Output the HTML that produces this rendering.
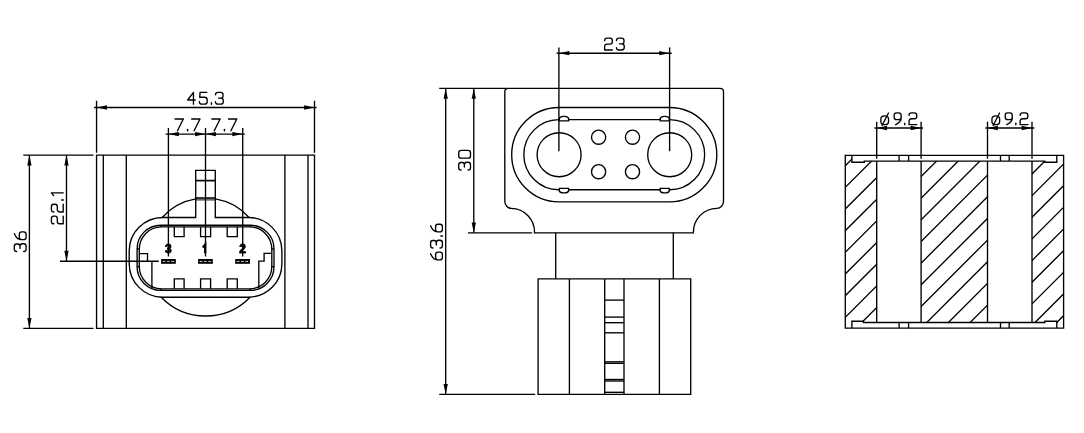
<!DOCTYPE html>
<html><head><meta charset="utf-8"><title>Connector drawing</title>
<style>
html,body{margin:0;padding:0;background:#fff;}
body{width:1084px;height:433px;overflow:hidden;font-family:"Liberation Sans",sans-serif;}
svg{display:block;}
svg path, svg circle{fill:none;stroke:#000;stroke-width:1.35;}
svg .a{fill:#000;stroke:none;}
svg .t path{stroke-linecap:round;stroke-linejoin:round;}
svg .b{font-family:"Liberation Sans",sans-serif;font-weight:bold;font-size:12px;text-anchor:middle;fill:#000;stroke:#000;stroke-width:0.8px;filter:grayscale(1);}
svg path.wd{stroke:#fff;stroke-width:0.8;stroke-dasharray:2.7 1.6;}
</style></head><body>
<svg width="1084" height="433" viewBox="0 0 1084 433">
<rect x="0" y="0" width="1084" height="433" fill="#fff"/>
<defs><clipPath id="hc"><path d="M845.3,155.35 H851.9 V162.2 H864.3 V161.05 H876.7 V322.5 H863.4 V321.2 H851.9 V328.1 H845.3 Z"/><path d="M921.1,161.05 H987.5 V322.5 H921.1 Z"/><path d="M1032,161.05 H1044.8 V162.2 H1056.8 V155.35 H1063.6 V328.1 H1056.8 V321.2 H1044.8 V322.5 H1032 Z"/></clipPath></defs>
<path d="M96.55,155.1 H314.5 V328.3 H96.55 Z"/>
<path d="M103.3,155.1 L103.3,328.3" />
<path d="M126.3,155.1 L126.3,328.3" />
<path d="M284.9,155.1 L284.9,328.3" />
<path d="M308.0,155.1 L308.0,328.3" />
<path d="M96.55,100.7 L96.55,152.8" />
<path d="M314.5,100.7 L314.5,152.8" />
<path d="M94.1,107.5 L316.6,107.5" />
<polygon class="a" points="96.55,107.50 106.95,105.35 106.95,109.65"/>
<polygon class="a" points="314.50,107.50 304.10,105.35 304.10,109.65"/>
<g transform="translate(187.1,104.2)" class="t"><path transform="translate(0.55,-11.8)" d="M5.8,0 L0,7.6 H7.6 M5.8,0 V11.8" stroke-width="1.35"/><path transform="translate(12.25,-11.8)" d="M7.4,0 H0.7 L0.4,4.9 H5.2 Q7.8,4.9 7.8,7.4 V9.3 Q7.8,11.8 5.2,11.8 H2.5 Q0,11.8 0,9.4" stroke-width="1.35"/><path transform="translate(24.15,-11.8)" d="M0.2,10.3 V11.9" stroke-width="1.75"/><path transform="translate(28.40,-11.8)" d="M0,2.4 Q0,0 2.4,0 H5.2 Q7.5,0 7.5,2.2 V3.5 Q7.5,5.7 5.2,5.7 H3 M5.2,5.7 Q7.8,5.7 7.8,8.1 V9.4 Q7.8,11.8 5.3,11.8 H2.5 Q0,11.8 0,9.4" stroke-width="1.35"/></g>
<path d="M168.4,127.9 L168.4,256.5" />
<path d="M205.5,127.9 L205.5,256.5" />
<path d="M242.7,127.9 L242.7,256.5" />
<path d="M165.6,134.1 L244.8,134.1" />
<polygon class="a" points="168.40,134.10 178.80,131.95 178.80,136.25"/>
<polygon class="a" points="205.50,134.10 195.10,131.95 195.10,136.25"/>
<polygon class="a" points="205.50,134.10 215.90,131.95 215.90,136.25"/>
<polygon class="a" points="242.70,134.10 232.30,131.95 232.30,136.25"/>
<g transform="translate(174.5,130.8)" class="t"><path transform="translate(0.55,-11.8)" d="M0,0 H8.3 L2.4,11.8" stroke-width="1.35"/><path transform="translate(12.95,-11.8)" d="M0.2,10.3 V11.9" stroke-width="1.75"/><path transform="translate(17.20,-11.8)" d="M0,0 H8.3 L2.4,11.8" stroke-width="1.35"/></g>
<g transform="translate(211.3,130.8)" class="t"><path transform="translate(0.55,-11.8)" d="M0,0 H8.3 L2.4,11.8" stroke-width="1.35"/><path transform="translate(12.95,-11.8)" d="M0.2,10.3 V11.9" stroke-width="1.75"/><path transform="translate(17.20,-11.8)" d="M0,0 H8.3 L2.4,11.8" stroke-width="1.35"/></g>
<path d="M23.3,155.1 L93.5,155.1" />
<path d="M23.3,328.3 L93.5,328.3" />
<path d="M60.0,261.2 L158.8,261.2" />
<path d="M29.4,155.1 L29.4,328.3" />
<polygon class="a" points="29.40,155.10 27.25,165.50 31.55,165.50"/>
<polygon class="a" points="29.40,328.30 27.25,317.90 31.55,317.90"/>
<path d="M66.5,155.1 L66.5,261.2" />
<polygon class="a" points="66.50,155.10 64.35,165.50 68.65,165.50"/>
<polygon class="a" points="66.50,261.20 64.35,250.80 68.65,250.80"/>
<g transform="translate(26.1,252.075) rotate(-90)" class="t"><path transform="translate(0.55,-11.8)" d="M0,2.4 Q0,0 2.4,0 H5.2 Q7.5,0 7.5,2.2 V3.5 Q7.5,5.7 5.2,5.7 H3 M5.2,5.7 Q7.8,5.7 7.8,8.1 V9.4 Q7.8,11.8 5.3,11.8 H2.5 Q0,11.8 0,9.4" stroke-width="1.35"/><path transform="translate(12.45,-11.8)" d="M0,9.4 Q0,11.8 2.4,11.8 H5.3 Q7.7,11.8 7.7,9.4 V7.4 Q7.7,5.0 5.3,5.0 H2.4 Q0,5.0 0,7.4 Z M0,7.6 V6.5 Q0,2.6 6.1,0" stroke-width="1.35"/></g>
<g transform="translate(63.2,224.32500000000002) rotate(-90)" class="t"><path transform="translate(0.55,-11.8)" d="M0,2.5 Q0,0 2.4,0 H5.3 Q7.7,0 7.7,2.3 V3.7 Q7.7,5.9 5.3,5.9 H2.4 Q0,5.9 0,8.2 V11.8 H7.7" stroke-width="1.35"/><path transform="translate(12.35,-11.8)" d="M0,2.5 Q0,0 2.4,0 H5.3 Q7.7,0 7.7,2.3 V3.7 Q7.7,5.9 5.3,5.9 H2.4 Q0,5.9 0,8.2 V11.8 H7.7" stroke-width="1.35"/><path transform="translate(24.15,-11.8)" d="M0.2,10.3 V11.9" stroke-width="1.75"/><path transform="translate(28.40,-11.8)" d="M0.3,2.3 L3.0,0 V11.8" stroke-width="1.35"/></g>
<path d="M162.2,217.5 H195.7 V170.4 H215.3 V217.5 H249.1"/>
<path d="M195.7,180.6 L215.3,180.6" style="stroke-width:1.7"/>
<path d="M195.7,198.0 L215.3,198.0" style="stroke-width:1.6"/>
<path d="M195.7,199.9 L215.3,199.9" style="stroke-width:1.0"/>
<path d="M162.2,217.5 A57.9,57.9 0 0 1 195.7,198.9 M215.3,198.9 A57.9,57.9 0 0 1 249.1,217.5"/>
<path d="M161.2,297.2 A61.9,61.9 0 0 0 250.1,297.2"/>
<path d="M162.7,217.5 A33.5,33.5 0 0 0 129.2,251.0 V263.7 A33.5,33.5 0 0 0 162.7,297.2 H248.6 A33.5,33.5 0 0 0 281.9,263.7 V251.0 A33.5,33.5 0 0 0 248.6,217.5"/>
<path d="M160.79999999999998,225.2 H250.3 A23.7,23.7 0 0 1 274.0,248.89999999999998 V266.7 A23.7,23.7 0 0 1 250.3,290.4 H160.79999999999998 A23.7,23.7 0 0 1 137.1,266.7 V248.89999999999998 A23.7,23.7 0 0 1 160.79999999999998,225.2 Z"/>
<path d="M161.5,226.9 H249.60000000000002 A22.2,22.2 0 0 1 271.8,249.1 V266.6 A22.2,22.2 0 0 1 249.60000000000002,288.8 H161.5 A22.2,22.2 0 0 1 139.3,266.6 V249.1 A22.2,22.2 0 0 1 161.5,226.9 Z"/>
<path d="M160.8,225.2 L160.8,226.9" />
<path d="M160.8,288.8 L160.8,290.4" />
<path d="M250.3,225.2 L250.3,226.9" />
<path d="M250.3,288.8 L250.3,290.4" />
<path d="M137.1,248.9 L139.3,248.9" />
<path d="M271.8,248.9 L274.0,248.9" />
<path d="M137.1,266.7 L139.3,266.7" />
<path d="M271.8,266.7 L274.0,266.7" />
<path d="M174.3,226.9 V236.6 H184.1 V226.9"/>
<path d="M174.3,288.8 V278.8 H184.1 V288.8"/>
<path d="M200.6,226.9 V236.6 H210.6 V226.9"/>
<path d="M200.6,288.8 V278.8 H210.6 V288.8"/>
<path d="M227.2,226.9 V236.6 H237.3 V226.9"/>
<path d="M227.2,288.8 V278.8 H237.3 V288.8"/>
<rect class="a" x="161.1" y="259.0" width="14.7" height="4.8"/>
<path d="M162.7,261.4 H174.4" class="wd"/>
<rect class="a" x="198.1" y="259.0" width="14.7" height="4.8"/>
<path d="M199.7,261.4 H211.4" class="wd"/>
<rect class="a" x="235.2" y="259.0" width="14.8" height="4.8"/>
<path d="M236.79999999999998,261.4 H248.6" class="wd"/>
<path d="M139.3,253.6 H147.5 V261.2"/>
<path d="M151.9,261.2 L151.9,288.8" />
<path d="M271.8,253.4 H264.1 V261.1 H258.8 V288.8"/>
<text x="168.3" y="252.7" class="b">3</text>
<text x="242.7" y="252.7" class="b">2</text>
<path d="M202.8,247.4 L205.2,244.6 V253.2" style="stroke-width:2.3"/>
<path d="M508.3,88.4 H720 Q723.5,88.4 723.5,91.9 V201.2 A6.6,7.2 0 0 1 716.9,208.4 A23.6,23.6 0 0 0 693.4,232.8 H534.5 A23.6,23.6 0 0 0 511.3,208.4 A6.5,7.2 0 0 1 504.8,201.2 V91.9 Q504.8,88.4 508.3,88.4 Z"/>
<path d="M558.9,47.4 L558.9,151.2" />
<path d="M669.6,47.4 L669.6,151.2" />
<path d="M556.6,53.2 L671.7,53.2" />
<polygon class="a" points="558.90,53.20 569.30,51.05 569.30,55.35"/>
<polygon class="a" points="669.60,53.20 659.20,51.05 659.20,55.35"/>
<g transform="translate(604.1,49.95)" class="t"><path transform="translate(0.55,-11.8)" d="M0,2.5 Q0,0 2.4,0 H5.3 Q7.7,0 7.7,2.3 V3.7 Q7.7,5.9 5.3,5.9 H2.4 Q0,5.9 0,8.2 V11.8 H7.7" stroke-width="1.35"/><path transform="translate(12.35,-11.8)" d="M0,2.4 Q0,0 2.4,0 H5.2 Q7.5,0 7.5,2.2 V3.5 Q7.5,5.7 5.2,5.7 H3 M5.2,5.7 Q7.8,5.7 7.8,8.1 V9.4 Q7.8,11.8 5.3,11.8 H2.5 Q0,11.8 0,9.4" stroke-width="1.35"/></g>
<path d="M439.2,88.4 L507,88.4" />
<path d="M467.9,232.8 L532.1,232.8" />
<path d="M439.2,394.3 L535.2,394.3" />
<path d="M445.7,88.4 L445.7,394.3" />
<polygon class="a" points="445.70,88.40 443.55,98.80 447.85,98.80"/>
<polygon class="a" points="445.70,394.30 443.55,383.90 447.85,383.90"/>
<path d="M473.8,88.4 L473.8,232.8" />
<polygon class="a" points="473.80,88.40 471.65,98.80 475.95,98.80"/>
<polygon class="a" points="473.80,232.80 471.65,222.40 475.95,222.40"/>
<g transform="translate(442.4,260.4) rotate(-90)" class="t"><path transform="translate(0.55,-11.8)" d="M0,9.4 Q0,11.8 2.4,11.8 H5.3 Q7.7,11.8 7.7,9.4 V7.4 Q7.7,5.0 5.3,5.0 H2.4 Q0,5.0 0,7.4 Z M0,7.6 V6.5 Q0,2.6 6.1,0" stroke-width="1.35"/><path transform="translate(12.35,-11.8)" d="M0,2.4 Q0,0 2.4,0 H5.2 Q7.5,0 7.5,2.2 V3.5 Q7.5,5.7 5.2,5.7 H3 M5.2,5.7 Q7.8,5.7 7.8,8.1 V9.4 Q7.8,11.8 5.3,11.8 H2.5 Q0,11.8 0,9.4" stroke-width="1.35"/><path transform="translate(24.25,-11.8)" d="M0.2,10.3 V11.9" stroke-width="1.75"/><path transform="translate(28.50,-11.8)" d="M0,9.4 Q0,11.8 2.4,11.8 H5.3 Q7.7,11.8 7.7,9.4 V7.4 Q7.7,5.0 5.3,5.0 H2.4 Q0,5.0 0,7.4 Z M0,7.6 V6.5 Q0,2.6 6.1,0" stroke-width="1.35"/></g>
<g transform="translate(470.5,170.575) rotate(-90)" class="t"><path transform="translate(0.55,-11.8)" d="M0,2.4 Q0,0 2.4,0 H5.2 Q7.5,0 7.5,2.2 V3.5 Q7.5,5.7 5.2,5.7 H3 M5.2,5.7 Q7.8,5.7 7.8,8.1 V9.4 Q7.8,11.8 5.3,11.8 H2.5 Q0,11.8 0,9.4" stroke-width="1.35"/><path transform="translate(12.45,-11.8)" d="M2.5,0 H5.2 Q7.7,0 7.7,2.5 V9.3 Q7.7,11.8 5.2,11.8 H2.5 Q0,11.8 0,9.3 V2.5 Q0,0 2.5,0 Z" stroke-width="1.35"/></g>
<path d="M558.9,107.45 H669.6 A47.2,47.2 0 0 1 669.6,201.85000000000002 H558.9 A47.2,47.2 0 0 1 558.9,107.45 Z"/>
<path d="M568.6,119.60000000000001 H660.2 M669.6,119.60000000000001 A35.05,35.05 0 0 1 669.6,189.7 M660.2,189.7 H568.6 M558.9,189.7 A35.05,35.05 0 0 1 558.9,119.60000000000001"/>
<path d="M559.3,120.8 V118.5 Q559.9,116.3 563.3,116.3 H564.6 Q568.0,116.3 568.6,118.5 V120.8 Z"/>
<path d="M660.2,120.8 V118.5 Q660.8000000000001,116.3 664.2,116.3 H665.3 Q668.6999999999999,116.3 669.3,118.5 V120.8 Z"/>
<path d="M559.3,188.4 V190.70000000000002 Q559.9,192.9 563.3,192.9 H564.6 Q568.0,192.9 568.6,190.70000000000002 V188.4 Z"/>
<path d="M660.2,188.4 V190.70000000000002 Q660.8000000000001,192.9 664.2,192.9 H665.3 Q668.6999999999999,192.9 669.3,190.70000000000002 V188.4 Z"/>
<circle cx="559.1" cy="154.7" r="22.0"/>
<circle cx="669.7" cy="154.7" r="22.0"/>
<circle cx="598.6" cy="137.2" r="7.1"/>
<circle cx="598.6" cy="171.7" r="7.1"/>
<circle cx="632.5" cy="137.2" r="7.1"/>
<circle cx="632.5" cy="171.7" r="7.1"/>
<path d="M555.7,232.8 L555.7,278.9" />
<path d="M673.3,232.8 L673.3,278.9" />
<path d="M538.1,278.9 H690.7 V394.3 H538.1 Z"/>
<path d="M569.4,278.9 L569.4,394.3" />
<path d="M604.7,278.9 L604.7,394.3" />
<path d="M624.0,278.9 L624.0,394.3" />
<path d="M659.4,278.9 L659.4,394.3" />
<path d="M604.7,300.1 L624.0,300.1" />
<path d="M604.7,317.1 L624.0,317.1" />
<path d="M604.7,322.7 L624.0,322.7" />
<path d="M604.7,332.8 L624.0,332.8" />
<path d="M604.7,361.8 L624.0,361.8" />
<path d="M604.7,363.3 L624.0,363.3" />
<path d="M604.7,379.5 L624.0,379.5" />
<path d="M604.7,381.0 L624.0,381.0" />
<path d="M604.7,392.3 L624.0,392.3" />
<path d="M845.3,155.35 H1063.6 V328.1 H845.3 Z"/>
<path d="M851.9,155.35 V162.2 H864.3 V161.05 H1044.8 V162.2 H1056.8 V155.35"/>
<path d="M851.9,328.1 V321.2 H863.4 V322.5 H1044.8 V321.2 H1056.8 V328.1"/>
<path d="M876.7,161.05 L876.7,322.5" />
<path d="M876.7,121.7 L876.7,158.7" />
<path d="M921.1,161.05 L921.1,322.5" />
<path d="M921.1,121.7 L921.1,158.7" />
<path d="M987.5,161.05 L987.5,322.5" />
<path d="M987.5,121.7 L987.5,158.7" />
<path d="M1032.0,161.05 L1032.0,322.5" />
<path d="M1032.0,121.7 L1032.0,158.7" />
<path d="M874.4,128.0 L923.0,128.0" />
<path d="M985.3,128.0 L1034.3,128.0" />
<polygon class="a" points="876.70,128.00 887.10,125.85 887.10,130.15"/>
<polygon class="a" points="921.10,128.00 910.70,125.85 910.70,130.15"/>
<polygon class="a" points="987.50,128.00 997.90,125.85 997.90,130.15"/>
<polygon class="a" points="1032.00,128.00 1021.60,125.85 1021.60,130.15"/>
<g transform="translate(880.3,124.7)" class="t"><path transform="translate(0.55,-11.8)" d="M3.85,3.0 Q7.7,3.0 7.7,6.2 V8.6 Q7.7,11.8 3.85,11.8 Q0,11.8 0,8.6 V6.2 Q0,3.0 3.85,3.0 Z M1.2,12.6 L7.6,0.1" stroke-width="1.35"/><path transform="translate(13.85,-11.8)" d="M7.0,2.4 Q7.0,0 4.7,0 H2.3 Q0,0 0,2.4 V4.3 Q0,6.7 2.3,6.7 H4.7 Q7.0,6.7 7.0,4.3 Z M7.0,4.2 V5.3 Q7.0,9.0 1.5,11.8" stroke-width="1.35"/><path transform="translate(24.25,-11.8)" d="M0.2,10.3 V11.9" stroke-width="1.75"/><path transform="translate(28.75,-11.8)" d="M0,2.5 Q0,0 2.4,0 H5.3 Q7.7,0 7.7,2.3 V3.7 Q7.7,5.9 5.3,5.9 H2.4 Q0,5.9 0,8.2 V11.8 H7.7" stroke-width="1.35"/></g>
<g transform="translate(991.4,124.7)" class="t"><path transform="translate(0.55,-11.8)" d="M3.85,3.0 Q7.7,3.0 7.7,6.2 V8.6 Q7.7,11.8 3.85,11.8 Q0,11.8 0,8.6 V6.2 Q0,3.0 3.85,3.0 Z M1.2,12.6 L7.6,0.1" stroke-width="1.35"/><path transform="translate(13.85,-11.8)" d="M7.0,2.4 Q7.0,0 4.7,0 H2.3 Q0,0 0,2.4 V4.3 Q0,6.7 2.3,6.7 H4.7 Q7.0,6.7 7.0,4.3 Z M7.0,4.2 V5.3 Q7.0,9.0 1.5,11.8" stroke-width="1.35"/><path transform="translate(24.25,-11.8)" d="M0.2,10.3 V11.9" stroke-width="1.75"/><path transform="translate(28.75,-11.8)" d="M0,2.5 Q0,0 2.4,0 H5.3 Q7.7,0 7.7,2.3 V3.7 Q7.7,5.9 5.3,5.9 H2.4 Q0,5.9 0,8.2 V11.8 H7.7" stroke-width="1.35"/></g>
<path d="M899.1,155.35 L899.1,161.05" />
<path d="M908.6,155.35 L908.6,161.05" />
<path d="M899.1,322.5 L899.1,328.1" />
<path d="M908.6,322.5 L908.6,328.1" />
<path d="M1000.5,155.35 L1000.5,161.05" />
<path d="M1009.2,155.35 L1009.2,161.05" />
<path d="M1000.5,322.5 L1000.5,328.1" />
<path d="M1009.2,322.5 L1009.2,328.1" />
<g clip-path="url(#hc)"><path d="M840,127.68 L1070,-102.32 M840,149.34 L1070,-80.66 M840,171.00 L1070,-59.00 M840,192.66 L1070,-37.34 M840,214.32 L1070,-15.68 M840,235.98 L1070,5.98 M840,257.64 L1070,27.64 M840,279.30 L1070,49.30 M840,300.96 L1070,70.96 M840,322.62 L1070,92.62 M840,344.28 L1070,114.28 M840,365.94 L1070,135.94 M840,387.60 L1070,157.60 M840,409.26 L1070,179.26 M840,430.92 L1070,200.92 M840,452.58 L1070,222.58 M840,474.24 L1070,244.24 M840,495.90 L1070,265.90 M840,517.56 L1070,287.56 M840,539.22 L1070,309.22 M840,560.88 L1070,330.88 M840,582.54 L1070,352.54"/></g>
</svg>
</body></html>
